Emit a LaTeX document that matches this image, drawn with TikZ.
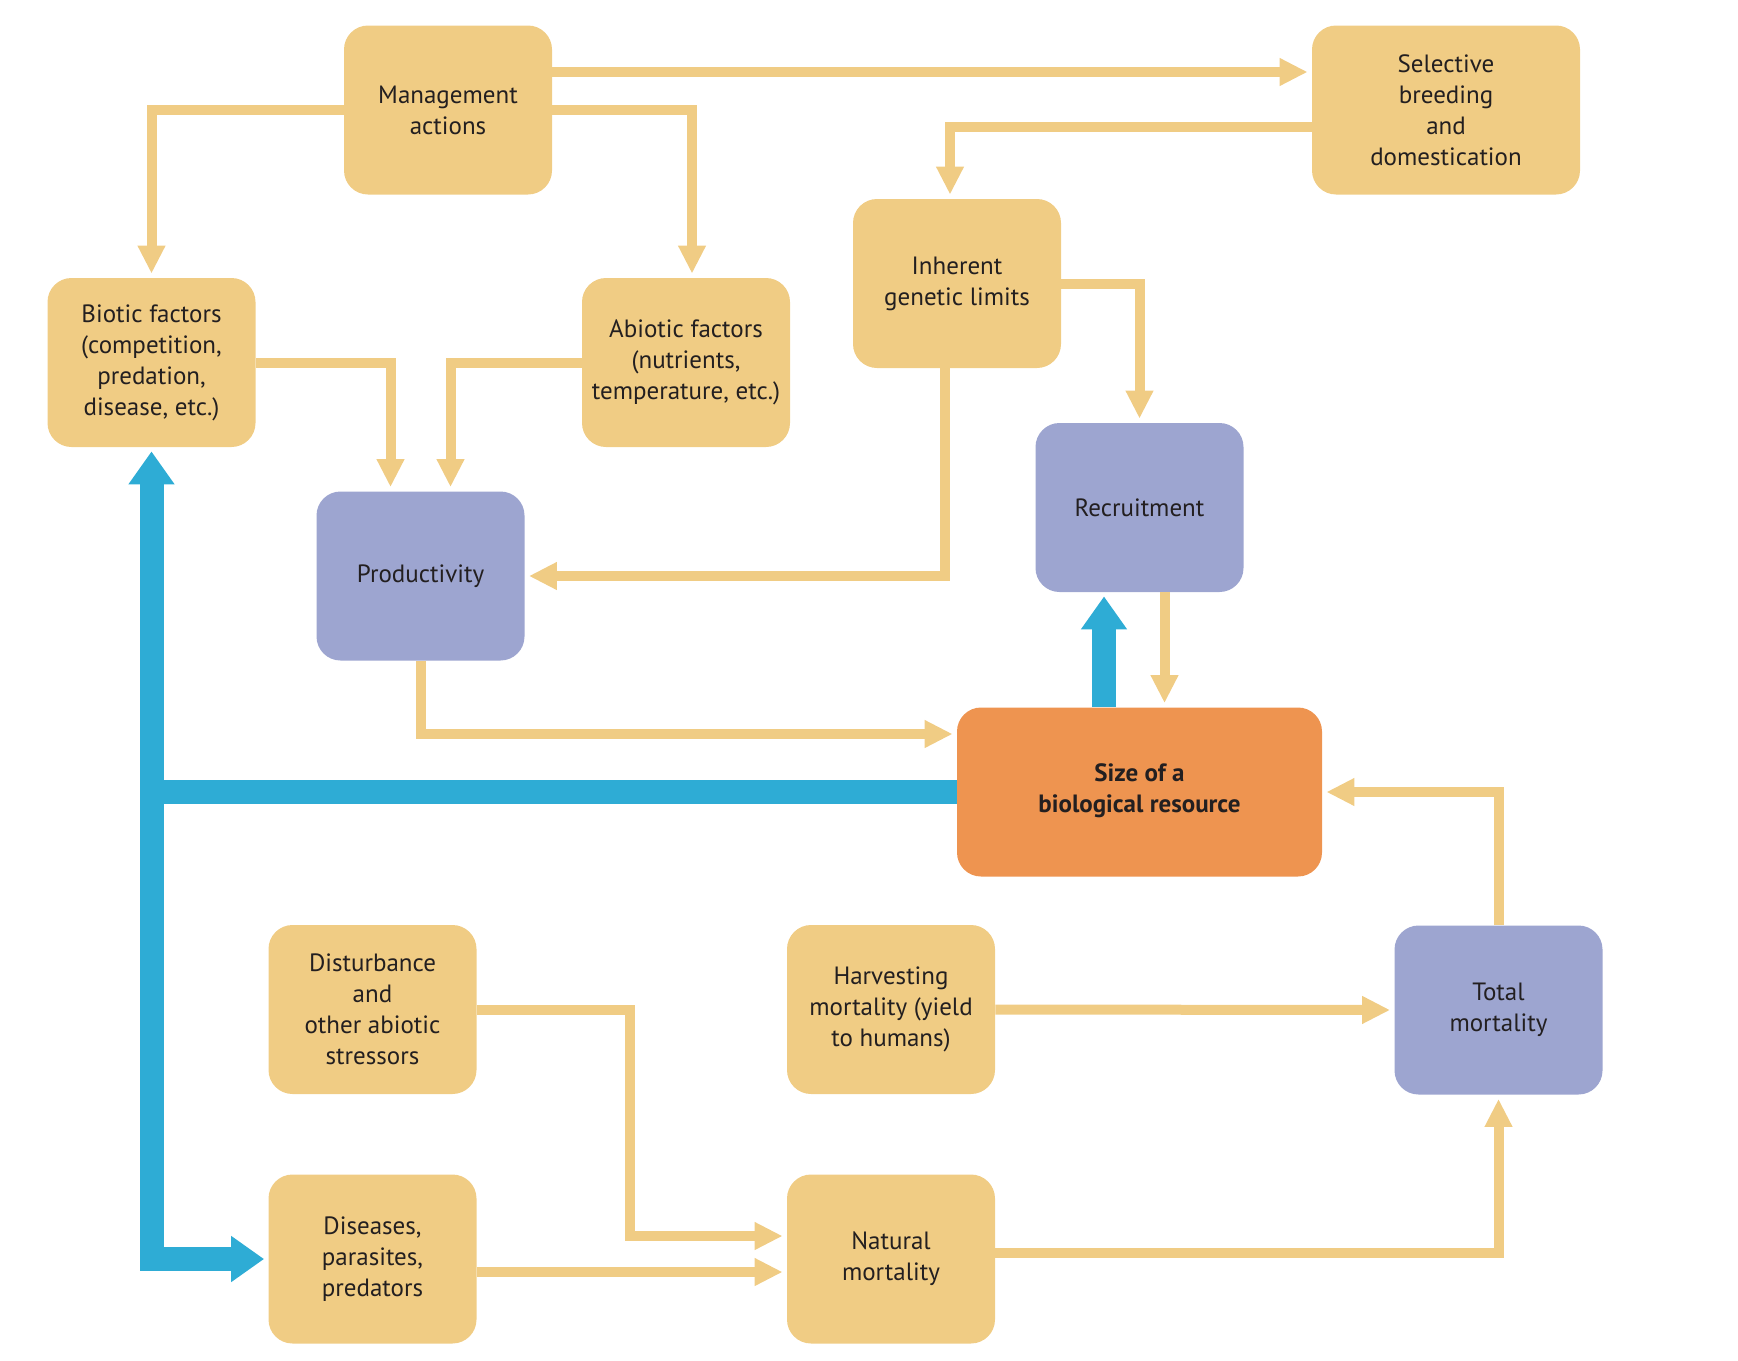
\documentclass[tikz,border=0pt]{standalone}
\usepackage{fontspec}
\setmainfont{PT Sans}
\usetikzlibrary{arrows.meta}
\definecolor{boxyellow}{HTML}{F0CC84}
\definecolor{boxpurple}{HTML}{9DA5D0}
\definecolor{boxorange}{HTML}{EE9450}
\definecolor{flowblue}{HTML}{2EACD5}
\definecolor{inktext}{HTML}{231F20}
\tikzset{
  rbox/.style={rounded corners=12pt, minimum width=104pt, minimum height=84.5pt,
    inner sep=0pt, align=center, text=inktext, font=\fontsize{12.5}{15.5}\selectfont},
  yellowbox/.style={rbox, fill=boxyellow},
  purplebox/.style={rbox, fill=boxpurple},
  flow/.style={draw=boxyellow, line width=5pt, -{Triangle[length=14pt,width=13pt]}, shorten >=2pt},
  bigflow/.style={draw=flowblue, line width=12pt, -{Triangle[length=16.5pt,width=22pt]}, shorten >=2pt},
}
\begin{document}
\begin{tikzpicture}[x=0.5pt,y=-0.5pt]
\useasboundingbox (0,0) rectangle (1738,1360);
\node[yellowbox] (management) at (448,110) {Management\\actions};
\node[yellowbox, minimum width=134pt] (selective) at (1446,110) {Selective\\breeding\\and\\domestication};
\node[yellowbox] (inherent) at (957,283.5) {Inherent\\genetic limits};
\node[yellowbox] (biotic) at (151.5,362.5) {Biotic factors\\(competition,\\predation,\\disease, etc.)};
\node[yellowbox] (abiotic) at (686,362.5) {Abiotic factors\\(nutrients,\\temperature, etc.)};
\node[purplebox] (recruitment) at (1139.5,507.5) {Recruitment};
\node[purplebox] (productivity) at (420.5,576) {Productivity};
\node[rbox, fill=boxorange, minimum width=182.5pt, font=\fontsize{12.5}{15.5}\selectfont\bfseries] (size) at (1139.5,792) {\raisebox{4pt}{Size of a}\\\raisebox{4pt}{biological resource}};
\node[yellowbox] (disturbance) at (372.5,1009.5) {Disturbance\\and\\other abiotic\\stressors};
\node[yellowbox] (harvesting) at (891,1009.5) {Harvesting\\mortality (yield\\to humans)};
\node[purplebox] (total) at (1498.5,1010) {Total\\mortality};
\node[yellowbox] (diseases) at (372.5,1259) {Diseases,\\parasites,\\predators};
\node[yellowbox] (natural) at (891,1259) {Natural\\mortality};
\coordinate (fork) at (biotic.south |- size.west);

\draw[flow] ([yshift=19pt]management.east) -- ([yshift=19pt]selective.west);
\draw[flow] (management.west) -| (biotic.north);
\draw[flow] (management.east) -| ([xshift=3pt]abiotic.north);
\draw[flow] ([yshift=-8.5pt]selective.west) -| ([xshift=-3.5pt]inherent.north);
\draw[flow] (inherent.east) -| (recruitment.north);
\draw[flow] ([xshift=-6pt]inherent.south) |- (productivity.east);
\draw[flow] (biotic.east) -| ([xshift=-15pt]productivity.north);
\draw[flow] (abiotic.west) -| ([xshift=15pt]productivity.north);
\draw[flow] (productivity.south) |- ([yshift=29pt]size.west);
\draw[flow] ([xshift=12.5pt]recruitment.south) -- ([xshift=12.5pt]size.north);
\draw[flow] (total.north) |- (size.east);
\draw[flow] (harvesting.east) -- (total.west);
\draw[flow] ([yshift=3pt]natural.east) -| (total.south);
\draw[flow] (disturbance.east) -- ++(76.5pt,0) |- ([yshift=11.5pt]natural.west);
\draw[flow] ([yshift=-6.5pt]diseases.east) -- ([yshift=-6.5pt]natural.west);

\draw[bigflow] ([xshift=-17.75pt]size.north) -- ([xshift=-17.75pt]recruitment.south);
\draw[bigflow] (size.west) -| (biotic.south);
\draw[bigflow] (fork) |- (diseases.west);
\end{tikzpicture}
\end{document}
